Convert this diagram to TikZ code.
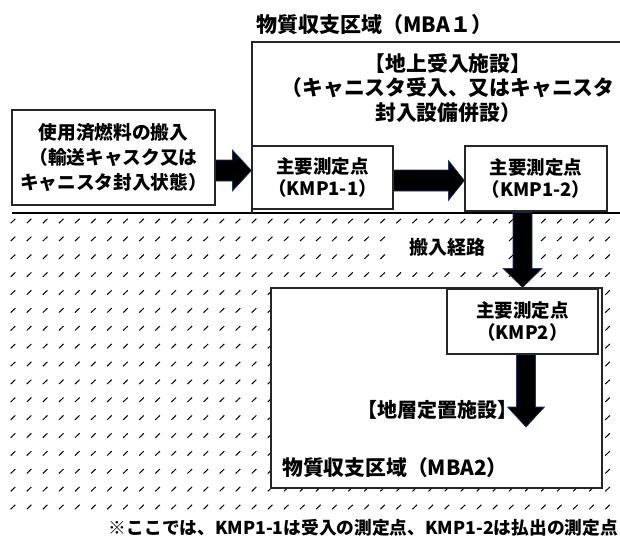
\documentclass[tikz,border=0pt]{standalone}
\usepackage{fontspec}
\setmainfont{Noto Sans CJK JP}
\usetikzlibrary{calc}
\definecolor{navy}{HTML}{203864}
\newcommand\myfs[2]{\fontsize{#1}{#2}\selectfont\bfseries}
\begin{document}
\begin{tikzpicture}[x=1pt,y=-1pt,
  box/.style={draw=black!85, line width=1.1pt, fill=white, inner sep=0pt, align=center},
  txt/.style={inner sep=0pt, align=center},
  barrow/.style={fill=black, draw=navy, line width=0.6pt, line join=miter},
  hmark/.style={line width=1pt, black}]
\useasboundingbox (0,0) rectangle (620,539);
\fill[white] (0,0) rectangle (620,539);
% hatching (ground)
\begin{scope}
\clip (10,215) rectangle (620,512);
\foreach \r in {0,...,16} {
  \foreach \c in {0,...,38} {
    \draw[hmark] ({13+16.07*\c-2.3},{221+17.875*\r+2.2}) -- ++(4.6,-4.4);
  }
}
\end{scope}
% ground line and MBA1 frame
\draw[line width=2.5pt] (12,213) -- (620,213);
\draw[line width=1.5pt, black!85] (252,213) -- (252,42) -- (622,42);
% texts above
\node[anchor=west, inner sep=0pt, font={\myfs{21}{25}}] (t1) at (256,25) {物質収支区域（MBA１）};
\node[txt, font={\myfs{20.8}{24.5}}] (t2) at (448,88) {【地上受入施設】\\（キャニスタ受入、又はキャニスタ\\封入設備併設）};
% boxes
\node[box, minimum width=203pt, minimum height=95pt, font={\myfs{18.7}{25}}] (src) at (113.5,157.5) {使用済燃料の搬入\\（輸送キャスク又は\\キャニスタ封入状態）};
\node[box, minimum width=141pt, minimum height=63pt, font={\myfs{18.5}{22.5}}] (k11) at (322.5,177.5) {主要測定点\\（KMP1-1）};
\node[box, minimum width=142pt, minimum height=65pt, font={\myfs{18.5}{22.5}}] (k12) at (536,178.5) {主要測定点\\（KMP1-2）};
\node[box, minimum width=331pt, minimum height=200pt] (mba2) at (436.5,388) {};
\node[box, minimum width=151pt, minimum height=65pt, font={\myfs{18.5}{22.5}}] (k2) at (522.5,321.5) {主要測定点\\（KMP2）};
\node[fill=white, minimum width=115pt, minimum height=34pt, inner sep=0pt, font={\myfs{19}{23}}] (route) at (447,247) {搬入経路};
\node[txt, font={\myfs{20}{22}}] (t3) at (437,410) {【地層定置施設】};
\node[anchor=west, inner sep=0pt, font={\myfs{20.8}{24}}] (t4) at (282,468) {物質収支区域（MBA2）};
\node[anchor=east, inner sep=0pt, font={\myfs{17.7}{22}}] (cap) at (618,528) {※ここでは、KMP1-1は受入の測定点、KMP1-2は払出の測定点};
\coordinate (a4end) at (526,427);
% block arrows
\draw[barrow] let \p1=([yshift=-13pt]src.east), \p2=(k11.west) in
  (\x1,\y1+10.5pt) -- (\x2-19pt,\y1+10.5pt) -- (\x2-19pt,\y1+20.5pt) -- (\x2,\y1)
  -- (\x2-19pt,\y1-20.5pt) -- (\x2-19pt,\y1-10.5pt) -- (\x1,\y1-10.5pt) -- cycle;
\draw[barrow] let \p1=([yshift=-3pt]k11.east), \p2=(k12.west) in
  (\x1,\y1+10.5pt) -- (\x2-16pt,\y1+10.5pt) -- (\x2-16pt,\y1+20pt) -- (\x2,\y1)
  -- (\x2-16pt,\y1-20pt) -- (\x2-16pt,\y1-10.5pt) -- (\x1,\y1-10.5pt) -- cycle;
\draw[barrow] let \p1=([xshift=-13.5pt,yshift=-1pt]k12.south), \p2=(mba2.north) in
  (\x1-9.5pt,\y1) -- (\x1-9.5pt,\y2+19pt) -- (\x1-19.5pt,\y2+19pt) -- (\x1,\y2)
  -- (\x1+19.5pt,\y2+19pt) -- (\x1+9.5pt,\y2+19pt) -- (\x1+9.5pt,\y1) -- cycle;
\draw[barrow] let \p1=([xshift=3.5pt]k2.south), \p2=(a4end) in
  (\x1-9.5pt,\y1) -- (\x1-9.5pt,\y2+20pt) -- (\x1-18.5pt,\y2+20pt) -- (\x1,\y2)
  -- (\x1+18.5pt,\y2+20pt) -- (\x1+9.5pt,\y2+20pt) -- (\x1+9.5pt,\y1) -- cycle;
\end{tikzpicture}
\end{document}
